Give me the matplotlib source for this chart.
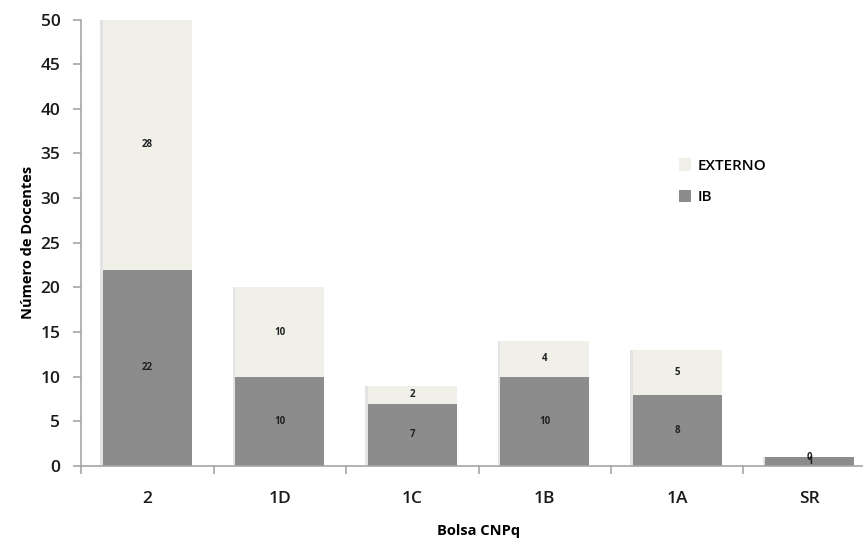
import matplotlib
matplotlib.use("Agg")
import matplotlib.pyplot as plt
import matplotlib.patheffects as pe
from matplotlib.patches import Patch
import numpy as np

# dados
categorias = ['2', '1D', '1C', '1B', '1A', 'SR']
ib = [22, 10, 7, 10, 8, 1]
externo = [28, 10, 2, 4, 5, 0]

cor_ib = '#8c8c8c'
cor_ext = '#f0efe8'
cinza = '#a6a6a6'

plt.rcParams['font.family'] = ['Open Sans', 'DejaVu Sans']

fig = plt.figure(figsize=(8.63, 5.39), dpi=100)
ax = fig.add_axes([0.094, 0.1354, 0.921, 0.8284])

x = np.arange(len(categorias))
sombra = [pe.SimplePatchShadow(offset=(-2, 0), shadow_rgbFace='#c8c8c8', alpha=0.5), pe.Normal()]
ax.bar(x, ib, width=0.67, color=cor_ib, path_effects=sombra)
ax.bar(x, externo, width=0.67, bottom=ib, color=cor_ext, path_effects=sombra)

for i in range(len(categorias)):
    ax.text(x[i], ib[i] / 2, str(ib[i]), ha='center', va='center', fontsize=7, fontweight='bold', color='#222222')
    ax.text(x[i], ib[i] + externo[i] / 2, str(externo[i]), ha='center', va='center', fontsize=7, fontweight='bold', color='#222222')

ax.set_xlim(-0.5, 5.5)
ax.set_ylim(0, 50)
ax.set_yticks(range(0, 51, 5))
ax.set_xticks(x)
ax.set_xticklabels(categorias)
ax.set_xticks(np.arange(-0.5, 6, 1), minor=True)
ax.tick_params(axis='x', which='major', length=0, pad=18, labelsize=12.5)
ax.tick_params(axis='x', which='minor', length=6, color=cinza, width=1.2)
ax.tick_params(axis='y', length=6, color=cinza, width=1.2, labelsize=12.5, pad=9)
for t in ax.get_xticklabels() + ax.get_yticklabels():
    t.set_fontweight('semibold')
    t.set_color('#1a1a1a')

for s in ['top', 'right']:
    ax.spines[s].set_visible(False)
for s in ['left', 'bottom']:
    ax.spines[s].set_color(cinza)
    ax.spines[s].set_linewidth(1.2)

ax.set_xlabel('Bolsa CNPq', fontsize=10.5, fontweight='bold', labelpad=12)
ax.set_ylabel('Número de Docentes', fontsize=10.5, fontweight='bold', labelpad=4)

handles = [Patch(facecolor=cor_ext, label='EXTERNO'), Patch(facecolor=cor_ib, label='IB')]
leg = ax.legend(handles=handles, loc='upper left', bbox_to_anchor=(0.735, 0.72), frameon=False,
                fontsize=11, handlelength=0.8, handleheight=0.9, handletextpad=0.4, labelspacing=1.1)
for t in leg.get_texts():
    t.set_fontweight('semibold')

fig.savefig('out.png', dpi=100)
